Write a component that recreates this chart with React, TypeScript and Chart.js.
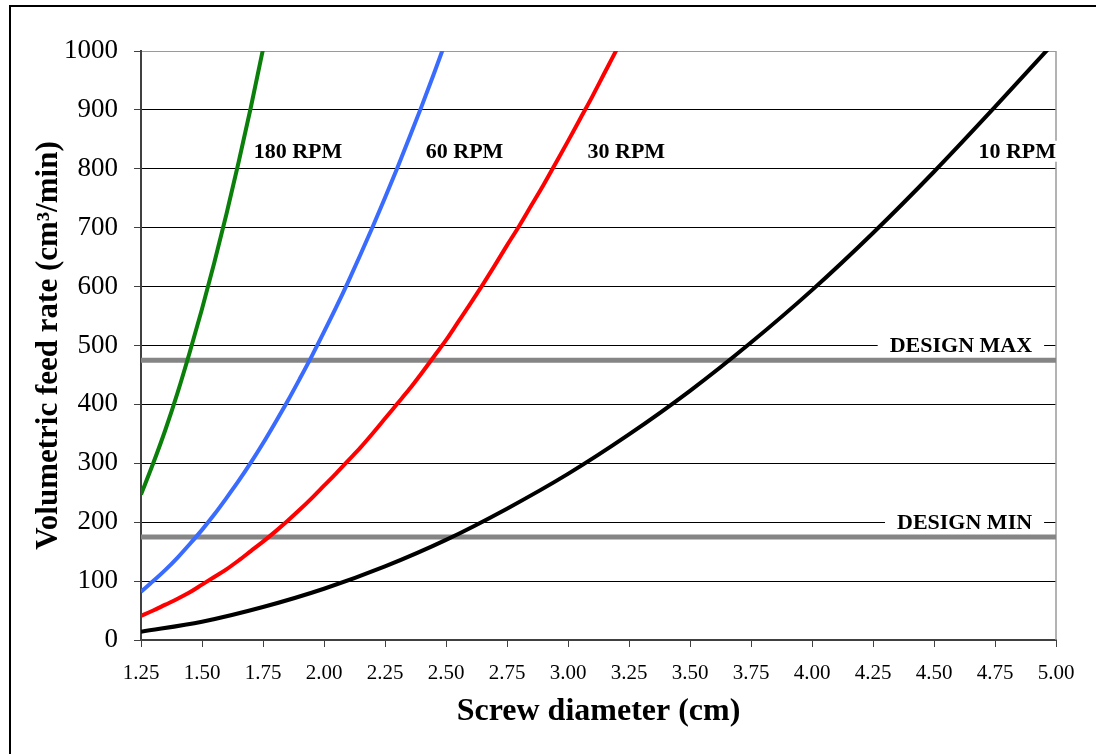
import React, { useEffect, useRef } from "react";
import { Chart, registerables } from "chart.js";

Chart.register(...registerables);

// ---- Data ----
const diam180 = [1.25, 1.3, 1.35, 1.4, 1.45, 1.5, 1.55, 1.6, 1.65, 1.7, 1.75, 1.8];
const rate180 = [247, 300, 357, 420, 489, 562, 640, 723, 811, 904, 1003, 1106];

const diam60 = [1.25, 1.3, 1.35, 1.4, 1.45, 1.5, 1.55, 1.6, 1.65, 1.7, 1.75, 1.8, 1.85, 1.9, 1.95, 2.0, 2.05, 2.1, 2.15, 2.2, 2.25, 2.3, 2.35, 2.4, 2.45, 2.5, 2.55];
const rate60 = [82, 100, 119, 140, 163, 187, 213, 241, 270, 301, 334, 369, 405, 443, 482, 523, 565, 609, 655, 702, 751, 801, 853, 906, 961, 1018, 1079];

const diam30 = [1.25, 1.3, 1.35, 1.4, 1.45, 1.5, 1.55, 1.6, 1.65, 1.7, 1.75, 1.8, 1.85, 1.9, 1.95, 2.0, 2.05, 2.1, 2.15, 2.2, 2.25, 2.3, 2.35, 2.4, 2.45, 2.5, 2.55, 2.6, 2.65, 2.7, 2.75, 2.8, 2.85, 2.9, 2.95, 3.0, 3.05, 3.1, 3.15, 3.2, 3.25];
const rate30 = [41, 50, 60, 70, 81, 94, 107, 120, 135, 151, 167, 184, 202, 221, 241, 262, 283, 305, 327, 351, 376, 401, 426, 453, 481, 509, 540, 571, 603, 636, 670, 703, 738, 773, 810, 847, 885, 923, 963, 1003, 1045];

const diam10 = [1.25, 1.5, 1.75, 2.0, 2.25, 2.5, 2.75, 3.0, 3.25, 3.5, 3.75, 4.0, 4.25, 4.5, 4.75, 5.0];
const rate10 = [14, 31, 56, 87, 125, 170, 223, 282, 349, 423, 505, 594, 691, 795, 905, 1018];

const designMax = 475;
const designMin = 175;
const designSpan = [1.25, 5.0];

const xMin = 1.25;
const xMax = 5.0;
const xStep = 0.25;
const yMin = 0;
const yMax = 1000;
const yStep = 100;

const seriesNames = ["180 RPM", "60 RPM", "30 RPM", "10 RPM"];
const designNames = ["DESIGN MAX", "DESIGN MIN"];

// label anchors in data units
const curveLabelPos = [
  { x: 1.712, y: 829, align: "left" },
  { x: 2.417, y: 829, align: "left" },
  { x: 3.08, y: 829, align: "left" },
  { x: 5.0, y: 829, align: "right" },
];
const designLabelPos = [
  { x: 4.902, y: 500 },
  { x: 4.902, y: 200 },
];

const SERIF = "'Liberation Serif', 'Times New Roman', serif";

const pts = (xs: number[], ys: number[]) => xs.map((x, i) => ({ x, y: ys[i] }));

const decorPlugin = {
  id: "decor",
  beforeDraw(chart: any) {
    const ctx = chart.ctx;
    ctx.save();
    ctx.fillStyle = "#ffffff";
    ctx.fillRect(0, 0, chart.width, chart.height);
    ctx.strokeStyle = "#000000";
    ctx.lineWidth = 2;
    ctx.strokeRect(10, 6, chart.width + 50, chart.height + 50);
    ctx.restore();
  },
  beforeDatasetsDraw(chart: any) {
    const { ctx, chartArea } = chart;
    ctx.save();
    ctx.strokeStyle = "#9a9a9a";
    ctx.lineWidth = 1.5;
    ctx.beginPath();
    ctx.moveTo(chartArea.right, chartArea.top);
    ctx.lineTo(chartArea.right, chartArea.bottom);
    ctx.stroke();
    ctx.restore();
  },
  afterDatasetsDraw(chart: any) {
    const { ctx } = chart;
    const xs = chart.scales.x;
    const ys = chart.scales.y;
    ctx.save();
    ctx.font = `bold 22px ${SERIF}`;
    ctx.textBaseline = "middle";
    ctx.fillStyle = "#000";
    const drawLabel = (text: string, px: number, py: number, align: string, padX: number) => {
      const w = ctx.measureText(text).width;
      const left = align === "right" ? px - w : px;
      ctx.fillStyle = "#ffffff";
      ctx.fillRect(left - padX, py - 11, w + padX * 2, 21);
      ctx.fillStyle = "#000000";
      ctx.textAlign = "left";
      ctx.fillText(text, left, py + 1);
    };
    seriesNames.forEach((name, i) => {
      const p = curveLabelPos[i];
      drawLabel(name, xs.getPixelForValue(p.x), ys.getPixelForValue(p.y), p.align, 3);
    });
    designNames.forEach((name, i) => {
      const p = designLabelPos[i];
      drawLabel(name, xs.getPixelForValue(p.x), ys.getPixelForValue(p.y), "right", 12);
    });
    ctx.restore();
  },
};

export default function App() {
  const ref = useRef<HTMLCanvasElement | null>(null);

  useEffect(() => {
    document.body.style.margin = "0";
    if (!ref.current) return;
    const lineDs = (label: string, data: any[], color: string) => ({
      label,
      data,
      borderColor: color,
      backgroundColor: color,
      borderWidth: 4,
      pointRadius: 0,
      cubicInterpolationMode: "monotone" as const,
      clip: 0,
      fill: false,
    });
    const designDs = (label: string, v: number) => ({
      label,
      data: designSpan.map((x) => ({ x, y: v })),
      borderColor: "#858585",
      backgroundColor: "#858585",
      borderWidth: 5,
      pointRadius: 0,
      clip: 0,
      fill: false,
    });

    const chart = new Chart(ref.current, {
      type: "line",
      data: {
        datasets: [
          lineDs(seriesNames[0], pts(diam180, rate180), "#0a7f0a"),
          lineDs(seriesNames[1], pts(diam60, rate60), "#3a6bff"),
          lineDs(seriesNames[2], pts(diam30, rate30), "#ff0000"),
          lineDs(seriesNames[3], pts(diam10, rate10), "#000000"),
          designDs(designNames[0], designMax),
          designDs(designNames[1], designMin),
        ],
      },
      options: {
        responsive: false,
        animation: false,
        events: [],
        layout: { padding: { top: 51, right: 40, left: 0, bottom: 0 } },
        plugins: {
          legend: { display: false },
          tooltip: { enabled: false },
          title: { display: false },
        },
        scales: {
          x: {
            type: "linear",
            min: xMin,
            max: xMax,
            afterFit: (s: any) => {
              s.height = 114;
            },
            ticks: {
              stepSize: xStep,
              autoSkip: false,
              maxRotation: 0,
              padding: 14,
              color: "#000",
              font: { family: SERIF, size: 21 },
              callback: (v: any) => Number(v).toFixed(2),
            },
            grid: {
              drawOnChartArea: false,
              drawTicks: true,
              tickLength: 7,
              color: "#404040",
              lineWidth: 1,
            },
            border: { display: true, color: "#404040", width: 2 },
            title: {
              display: true,
              text: "Screw diameter (cm)",
              color: "#000",
              font: { family: SERIF, size: 32, weight: "bold" },
              padding: { top: 0, bottom: 23 },
            },
          },
          y: {
            type: "linear",
            min: yMin,
            max: yMax,
            afterFit: (s: any) => {
              s.width = 141;
            },
            ticks: {
              stepSize: yStep,
              padding: 16,
              color: "#000",
              font: { family: SERIF, size: 27 },
              callback: (v: any) => String(v),
            },
            grid: {
              drawTicks: true,
              tickLength: 7,
              tickColor: "#404040",
              lineWidth: 1,
              color: (c: any) => (c.tick && c.tick.value === yMax ? "#9a9a9a" : "#000000"),
            },
            border: { display: true, color: "#404040", width: 2 },
            title: {
              display: true,
              text: "Volumetric feed rate (cm³/min)",
              color: "#000",
              font: { family: SERIF, size: 31, weight: "bold" },
              padding: { top: 30, bottom: 0 },
            },
          },
        },
      },
      plugins: [decorPlugin],
    });
    return () => chart.destroy();
  }, []);

  return (
    <div style={{ width: 1096, height: 754 }}>
      <canvas ref={ref} width={1096} height={754} style={{ display: "block" }} />
    </div>
  );
}
